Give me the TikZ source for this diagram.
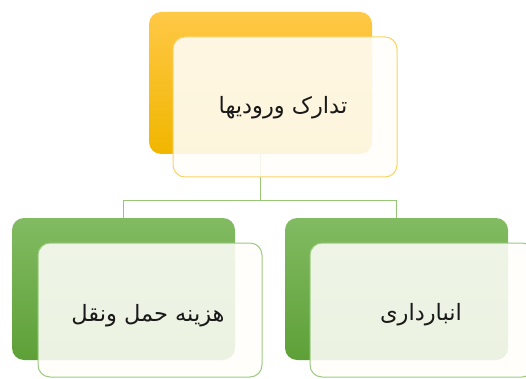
\documentclass[tikz,border=0pt]{standalone}
\usepackage{fontspec}
\newfontfamily\arabicfont[Script=Arabic]{DejaVu Sans}
\TeXXeTstate=1
\definecolor{goldtop}{RGB}{255,200,70}
\definecolor{goldbot}{RGB}{240,182,0}
\definecolor{goldline}{RGB}{248,212,100}
\definecolor{greentop}{RGB}{130,187,98}
\definecolor{greenbot}{RGB}{94,160,56}
\definecolor{greenline}{RGB}{156,202,128}
\definecolor{connline}{RGB}{150,198,118}
\definecolor{frontfill}{RGB}{255,254,250}
\begin{document}
\begin{tikzpicture}[x=1pt,y=-1pt,
  backbox/.style={rectangle, rounded corners=12pt, inner sep=0pt, minimum width=223pt, minimum height=142pt},
  goldback/.style={backbox, top color=goldtop, bottom color=goldbot},
  greenback/.style={backbox, top color=greentop, bottom color=greenbot},
  frontbox/.style={rectangle, rounded corners=12pt, inner sep=0pt, minimum width=224pt, line width=1pt, fill=frontfill, fill opacity=0.88},
  goldfront/.style={frontbox, draw=goldline, minimum height=140pt},
  greenfront/.style={frontbox, draw=greenline, minimum height=134pt},
  lbl/.style={inner sep=0pt, text=black!90, font=\arabicfont\fontsize{22.5}{26}\selectfont},
  conn/.style={draw=connline, line width=1pt}]
\useasboundingbox (0,0) rectangle (526,379);
\clip (0,0) rectangle (526,379);
% back boxes
\node[goldback] (topback) at (260.5,83) {};
\node[greenback] (leftback) at (123.5,289) {};
\node[greenback] (rightback) at (396.5,289) {};
% connectors
\coordinate (hj) at (260.5,200);
\draw[conn] (topback.south) -- (hj) -| (leftback.north);
\draw[conn] (hj) -| (rightback.north);
% front boxes
\node[goldfront] (topfront) at (285,107) {};
\node[greenfront] (leftfront) at (150,310) {};
\node[greenfront] (rightfront) at (422,310) {};
% labels
\node[lbl] (toptext) at (283,108) {\beginR تدارک ورودیها\endR};
\node[lbl] (lefttext) at (148,316) {\beginR هزینه حمل ونقل\endR};
\node[lbl] (righttext) at (421,315) {\beginR انبارداری\endR};
\end{tikzpicture}
\end{document}
